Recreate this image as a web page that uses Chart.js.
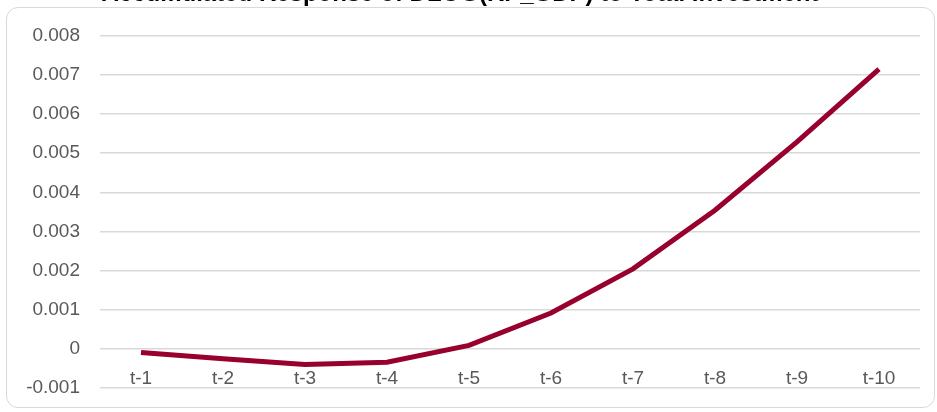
<!DOCTYPE html>
<html>
<head>
<meta charset="utf-8">
<script src="https://cdn.jsdelivr.net/npm/chart.js@4/dist/chart.umd.min.js"></script>
<style>
  html, body { margin: 0; padding: 0; background: #fff; }
  #wrap { position: relative; width: 937px; height: 412px; overflow: hidden; background: #fff; }
  #frame {
    position: absolute; left: 6px; top: 7px; width: 929px; height: 401px;
    border: 1px solid #d9d9d9; border-radius: 12px; box-sizing: border-box;
  }
  #chart { position: absolute; left: 0; top: -20px; }
</style>
</head>
<body>
<div id="wrap">
  <div id="frame"></div>
  <canvas id="chart" width="937" height="439"></canvas>
</div>
<script>
// Accumulated response by lag
const periods = ['t-1', 't-2', 't-3', 't-4', 't-5', 't-6', 't-7', 't-8', 't-9', 't-10'];
const response = [-0.0001, -0.00026, -0.00041, -0.00035, 0.00008, 0.00091, 0.00204, 0.00354, 0.00529, 0.00715];
const yMin = -0.001;
const yMax = 0.008;
const yStep = 0.001;

const fontFamily = "'Liberation Sans', Arial, sans-serif";

function formatTick(v) {
  if (Math.abs(v) < 1e-9) return '0';
  return v.toFixed(3);
}

new Chart(document.getElementById('chart'), {
  type: 'line',
  data: {
    labels: periods,
    datasets: [{
      data: response,
      borderColor: '#98002e',
      borderWidth: 5,
      pointRadius: 0,
      pointHoverRadius: 0,
      tension: 0,
      fill: false
    }]
  },
  options: {
    responsive: false,
    animation: false,
    layout: { padding: { left: 0, right: 17, top: 0, bottom: 25 } },
    plugins: {
      legend: { display: false },
      tooltip: { enabled: false },
      title: {
        display: true,
        text: 'Accumulated Response of DLOG(RP_GDP) to Total Investment',
        color: '#000',
        font: { family: fontFamily, size: 24, weight: 'bold' },
        padding: { top: 0, bottom: 27.2 }
      }
    },
    scales: {
      x: {
        type: 'category',
        // category labels hang under the zero line
        position: { y: 0 },
        offset: true,
        grid: { display: false, drawTicks: false },
        border: { display: false },
        ticks: {
          color: '#595959',
          font: { family: fontFamily, size: 19 },
          padding: 19,
          maxRotation: 0,
          autoSkip: false
        },
        afterFit(scale) { scale.height = 0; }
      },
      y: {
        min: yMin,
        max: yMax,
        grid: { color: '#d9d9d9', lineWidth: 1.5, drawTicks: false },
        border: { display: false },
        ticks: {
          stepSize: yStep,
          color: '#595959',
          font: { family: fontFamily, size: 19 },
          padding: 20,
          callback: formatTick
        },
        afterFit(scale) { scale.width = 100; }
      }
    }
  }
});
</script>
</body>
</html>
